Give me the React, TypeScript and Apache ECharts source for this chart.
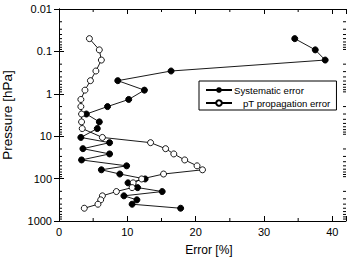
import React, { useEffect, useRef } from "react";
import * as echarts from "echarts";

const pressure = [0.05, 0.092, 0.16, 0.29, 0.49, 0.82, 1.36, 2.0, 3.0, 4.6, 6.6, 10.7, 14.2, 19.7, 26.2, 36.3, 50, 62, 78, 102, 126, 163, 202, 255, 317, 402, 500];
const systematic = [34.5, 37.5, 38.95, 16.4, 8.6, 12.5, 10.2, 7.1, 4.0, 5.9, 5.6, 3.2, 7.4, 3.5, 7.4, 3.3, 9.9, 6.2, 8.9, 12.6, 10.1, 11.5, 15.1, 9.5, 11.4, 10.7, 17.8];
const ptError = [4.45, 5.9, 6.2, 5.4, 4.6, 3.8, 3.2, 3.2, 3.3, 3.3, 3.4, 6.35, 13.4, 15.6, 16.8, 18.4, 20.2, 21.0, 15.3, 12.1, 10.85, 10.7, 8.4, 6.35, 6.1, 5.7, 3.7];

const seriesNames = ["Systematic error", "pT propagation error"];
const xMinorTicks = [5, 15, 25, 35];
const decades = [0.01, 0.1, 1, 10, 100];
const minorMultipliers = [2, 3, 4, 5, 6, 7, 8, 9];

const FONT = "Liberation Sans, Arial, Helvetica, sans-serif";

export default function App() {
  const ref = useRef<HTMLDivElement>(null);
  useEffect(() => {
    if (!ref.current) return;
    const chart = echarts.init(ref.current, undefined, { renderer: "svg" });

    const minorData: any[] = [];
    decades.forEach((d) => minorMultipliers.forEach((m) => minorData.push([0, d * m, 0])));
    xMinorTicks.forEach((v) => minorData.push([v, 1, 1]));

    const axisCommon = {
      axisLine: { show: true, lineStyle: { color: "#000", width: 1 } },
      splitLine: { show: false },
    };

    chart.setOption({
      animation: false,
      textStyle: { fontFamily: FONT },
      grid: { left: 59, top: 9, right: 6, bottom: 38, containLabel: false, outerBoundsMode: "none" },
      legend: {
        data: [
          { name: seriesNames[0], textStyle: { padding: [0, 0, 0, -3] } },
          { name: seriesNames[1], textStyle: { padding: [0, 0, 0, 6] } },
        ],
        orient: "vertical",
        left: 199,
        top: 81,
        itemWidth: 26,
        itemHeight: 7,
        itemGap: 3,
        padding: [4, 6, 2, 6],
        borderColor: "#000",
        borderWidth: 1,
        backgroundColor: "#fff",
        textStyle: { fontSize: 9.6, color: "#000", fontFamily: FONT },
      },
      xAxis: [
        {
          type: "value",
          min: 0,
          max: 42,
          interval: 10,
          position: "bottom",
          name: "Error [%]",
          nameLocation: "middle",
          nameGap: 23,
          nameTextStyle: { fontSize: 12, color: "#000", fontFamily: FONT, padding: [0, 0, 0, 13] },
          axisTick: { inside: true, length: 5, lineStyle: { color: "#000" } },
          axisLabel: {
            fontSize: 11,
            color: "#000",
            margin: 5,
            fontFamily: FONT,
            formatter: (v: number) => (v % 10 === 0 ? String(v) : ""),
          },
          ...axisCommon,
        },
        {
          type: "value",
          min: 0,
          max: 42,
          interval: 10,
          position: "top",
          axisTick: { inside: true, length: 5, lineStyle: { color: "#000" } },
          axisLabel: { show: false },
          ...axisCommon,
        },
      ],
      yAxis: [
        {
          type: "log",
          logBase: 10,
          min: 0.01,
          max: 1000,
          inverse: true,
          position: "left",
          name: "Pressure [hPa]",
          nameLocation: "middle",
          nameGap: 45,
          nameRotate: 90,
          nameTextStyle: { fontSize: 13.5, color: "#000", fontFamily: FONT },
          axisTick: { inside: true, length: 5, lineStyle: { color: "#000" } },
          axisLabel: {
            fontSize: 11,
            color: "#000",
            margin: 7,
            fontFamily: FONT,
            formatter: (v: number) => String(parseFloat(v.toPrecision(3))),
          },
          ...axisCommon,
        },
        {
          type: "log",
          logBase: 10,
          min: 0.01,
          max: 1000,
          inverse: true,
          position: "right",
          axisTick: { inside: true, length: 5, lineStyle: { color: "#000" } },
          axisLabel: { show: false },
          ...axisCommon,
        },
      ],
      series: [
        {
          name: seriesNames[0],
          type: "line",
          data: systematic.map((v, i) => [v, pressure[i]]),
          symbol: "circle",
          symbolSize: 6,
          lineStyle: { color: "#000", width: 0.9 },
          itemStyle: { color: "#000", borderColor: "#000" },
          z: 3,
        },
        {
          name: seriesNames[1],
          type: "line",
          data: ptError.map((v, i) => [v, pressure[i]]),
          symbol: "circle",
          symbolSize: 6,
          lineStyle: { color: "#000", width: 0.9 },
          itemStyle: { color: "#fff", borderColor: "#000", borderWidth: 0.9 },
          z: 3,
        },
        {
          type: "custom",
          silent: true,
          data: minorData,
          encode: { x: 0, y: 1 },
          renderItem: (params: any, api: any) => {
            const cs = params.coordSys;
            const kind = api.value(2);
            const style = { stroke: "#000", lineWidth: 1 };
            if (kind === 0) {
              const y = api.coord([0, api.value(1)])[1];
              return {
                type: "group",
                children: [
                  { type: "line", shape: { x1: cs.x, y1: y, x2: cs.x + 3, y2: y }, style },
                  { type: "line", shape: { x1: cs.x + cs.width, y1: y, x2: cs.x + cs.width - 3, y2: y }, style },
                ],
              };
            }
            const x = api.coord([api.value(0), 1])[0];
            return {
              type: "group",
              children: [
                { type: "line", shape: { x1: x, y1: cs.y + cs.height, x2: x, y2: cs.y + cs.height - 3 }, style },
                { type: "line", shape: { x1: x, y1: cs.y, x2: x, y2: cs.y + 3 }, style },
              ],
            };
          },
          z: 1,
        },
      ],
    });
    return () => chart.dispose();
  }, []);
  return (
    <div
      ref={ref}
      style={{ position: "absolute", left: 0, top: 0, width: 352, height: 259 }}
    />
  );
}
